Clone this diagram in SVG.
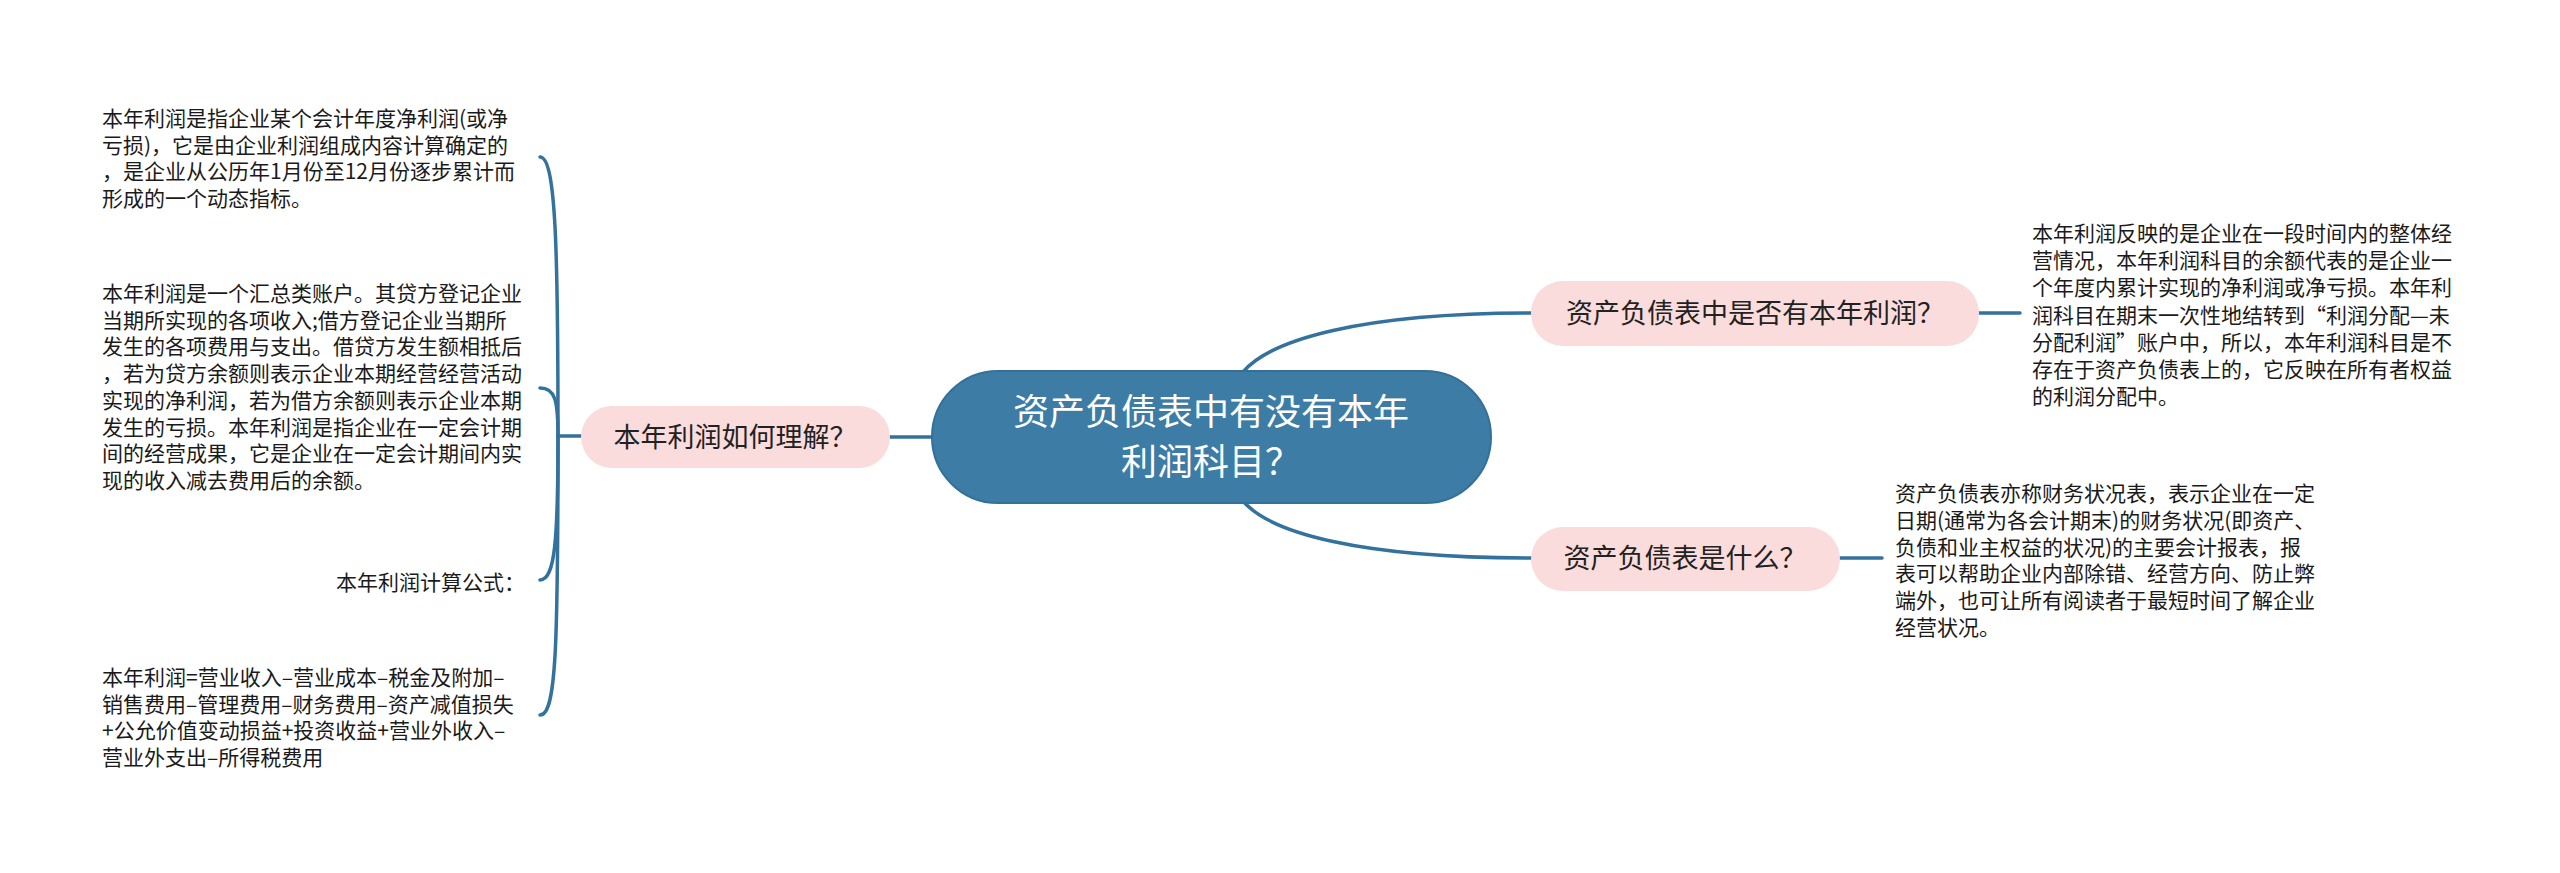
<svg xmlns="http://www.w3.org/2000/svg" width="2560" height="873" viewBox="0 0 2560 873">
<style>
.bg{fill:#ffffff}
.link{fill:none;stroke:#33729c;stroke-width:3.5;stroke-linecap:round}
.root{fill:#3d7ca4;stroke:#33709a;stroke-width:2}
.sub{fill:#fbdcdc}
.t{font-family:"Noto Sans CJK SC","Noto Sans",sans-serif}
.rt{font-size:36px;fill:#ffffff}
.st{font-size:27px;fill:#222222}
.lt{font-size:21px;fill:#1a1a1a}
</style>
<rect class="bg" x="0" y="0" width="2560" height="873"/>
<g id="connectors">
<path class="link" d="M 931 437 L 890 437"/>
<path class="link" d="M 1243 372 C 1270 340, 1360 313, 1531 313"/>
<path class="link" d="M 1243 501 C 1270 533, 1360 558, 1531 558"/>
<path class="link" d="M 1979 313 L 2020 313"/>
<path class="link" d="M 1840 558 L 1882 558"/>
<path class="link" d="M 581 436 L 558 436"/>
<path class="link" d="M 558 436 C 558 250, 556 157, 540 157"/>
<path class="link" d="M 558 436 C 558 400, 555 388, 540 388"/>
<path class="link" d="M 558 436 C 558 540, 555 580, 540 580"/>
<path class="link" d="M 558 436 C 558 650, 556 715, 540 715"/>
</g>
<g id="root">
<rect class="root" x="932" y="371" width="559" height="132" rx="66" ry="66"/>
<text class="t rt" x="1211" y="425" text-anchor="middle">资产负债表中有没有本年</text>
<text class="t rt" x="1211" y="475" text-anchor="middle">利润科目？</text>
</g>
<g id="node-left">
<rect class="sub" x="581" y="406" width="309" height="62" rx="31" ry="31"/>
<text class="t st" x="735" y="447" text-anchor="middle">本年利润如何理解？</text>
</g>
<g id="node-right-top">
<rect class="sub" x="1531" y="281" width="448" height="65" rx="32" ry="32"/>
<text class="t st" x="1755" y="323" text-anchor="middle">资产负债表中是否有本年利润？</text>
</g>
<g id="node-right-bottom">
<rect class="sub" x="1531" y="527" width="309" height="64" rx="32" ry="32"/>
<text class="t st" x="1685" y="568" text-anchor="middle">资产负债表是什么？</text>
</g>
<g id="leaf-left-1">
<text class="t lt" x="102" y="126">本年利润是指企业某个会计年度净利润(或净</text>
<text class="t lt" x="102" y="152.7">亏损)，它是由企业利润组成内容计算确定的</text>
<text class="t lt" x="102" y="179.4">，是企业从公历年1月份至12月份逐步累计而</text>
<text class="t lt" x="102" y="206.1">形成的一个动态指标。</text>
</g>
<g id="leaf-left-2">
<text class="t lt" x="102" y="301">本年利润是一个汇总类账户。其贷方登记企业</text>
<text class="t lt" x="102" y="327.7">当期所实现的各项收入;借方登记企业当期所</text>
<text class="t lt" x="102" y="354.4">发生的各项费用与支出。借贷方发生额相抵后</text>
<text class="t lt" x="102" y="381.1">，若为贷方余额则表示企业本期经营经营活动</text>
<text class="t lt" x="102" y="407.8">实现的净利润，若为借方余额则表示企业本期</text>
<text class="t lt" x="102" y="434.5">发生的亏损。本年利润是指企业在一定会计期</text>
<text class="t lt" x="102" y="461.2">间的经营成果，它是企业在一定会计期间内实</text>
<text class="t lt" x="102" y="487.9">现的收入减去费用后的余额。</text>
</g>
<g id="leaf-left-3">
<text class="t lt" x="525" y="590" text-anchor="end">本年利润计算公式：</text>
</g>
<g id="leaf-left-4">
<text class="t lt" x="102" y="685">本年利润=营业收入–营业成本–税金及附加–</text>
<text class="t lt" x="102" y="711.7">销售费用–管理费用–财务费用–资产减值损失</text>
<text class="t lt" x="102" y="738.4">+公允价值变动损益+投资收益+营业外收入–</text>
<text class="t lt" x="102" y="765.1">营业外支出–所得税费用</text>
</g>
<g id="leaf-right-1">
<text class="t lt" x="2032" y="241">本年利润反映的是企业在一段时间内的整体经</text>
<text class="t lt" x="2032" y="268.2">营情况，本年利润科目的余额代表的是企业一</text>
<text class="t lt" x="2032" y="295.4">个年度内累计实现的净利润或净亏损。本年利</text>
<text class="t lt" x="2032" y="322.6">润科目在期末一次性地结转到“利润分配—未</text>
<text class="t lt" x="2032" y="349.8">分配利润”账户中，所以，本年利润科目是不</text>
<text class="t lt" x="2032" y="377">存在于资产负债表上的，它反映在所有者权益</text>
<text class="t lt" x="2032" y="404.2">的利润分配中。</text>
</g>
<g id="leaf-right-2">
<text class="t lt" x="1895" y="501">资产负债表亦称财务状况表，表示企业在一定</text>
<text class="t lt" x="1895" y="527.8">日期(通常为各会计期末)的财务状况(即资产、</text>
<text class="t lt" x="1895" y="554.6">负债和业主权益的状况)的主要会计报表，报</text>
<text class="t lt" x="1895" y="581.4">表可以帮助企业内部除错、经营方向、防止弊</text>
<text class="t lt" x="1895" y="608.2">端外，也可让所有阅读者于最短时间了解企业</text>
<text class="t lt" x="1895" y="635">经营状况。</text>
</g>
</svg>
